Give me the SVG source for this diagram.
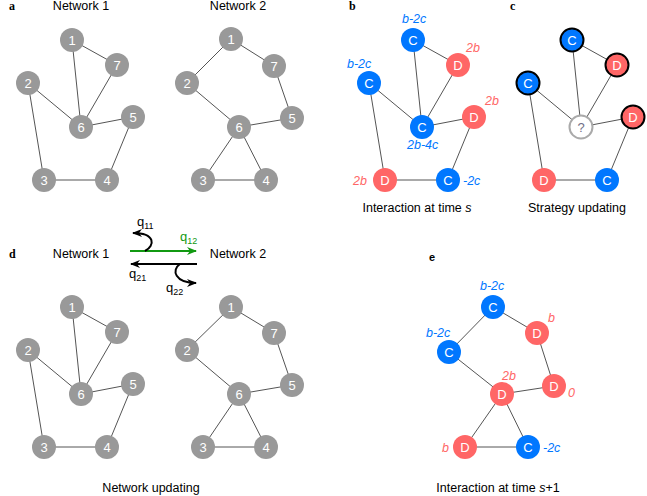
<svg xmlns="http://www.w3.org/2000/svg" width="647" height="496" viewBox="0 0 647 496">
<defs>
<marker id="ahK" viewBox="0 0 10 8" refX="9" refY="4" markerWidth="5" markerHeight="4" orient="auto" markerUnits="strokeWidth">
<path d="M0,0 L10,4 L0,8 L3,4 z" fill="#000"/>
</marker>
<marker id="ahG" viewBox="0 0 10 8" refX="9" refY="4" markerWidth="5" markerHeight="4" orient="auto" markerUnits="strokeWidth">
<path d="M0,0 L10,4 L0,8 L3,4 z" fill="#119911"/>
</marker>
</defs>
<style>
text{font-family:"Liberation Sans",Arial,sans-serif}
.ed line{stroke:#555;stroke-width:1}
.g{fill:#999}
.bl{fill:#0077ff}
.rd{fill:#ff6666}
.ol{stroke:#000;stroke-width:2}
.nl{fill:#fff;font-size:13px;text-anchor:middle}
.t{font-size:12.5px;fill:#000;text-anchor:middle}
.pl{font-family:"Liberation Serif",serif;font-weight:bold;font-size:12px}
.lb{font-style:italic;font-size:12.5px;fill:#0077ff}
.lr{font-style:italic;font-size:12.5px;fill:#ff6666}
.q{font-size:13px}
.q tspan{font-size:9px}
</style>
<rect width="647" height="496" fill="#fff"/>

<!-- labels -->
<text class="pl" x="9" y="10">a</text>
<text class="t" x="81" y="10">Network 1</text>
<text class="t" x="238" y="10">Network 2</text>
<text class="pl" x="349" y="10">b</text>
<text class="pl" x="510" y="10">c</text>
<text class="pl" x="9" y="258">d</text>
<text class="t" x="81" y="258">Network 1</text>
<text class="t" x="238" y="258">Network 2</text>
<text x="429" y="261" style="font-weight:bold;font-size:11px">e</text>
<text class="t" x="417" y="212">Interaction at time <tspan font-style="italic">s</tspan></text>
<text class="t" x="577" y="212">Strategy updating</text>
<text class="t" x="151" y="492">Network updating</text>
<text class="t" x="498" y="492">Interaction at time <tspan font-style="italic">s</tspan>+1</text>

<!-- connectors -->
<g id="connectors" class="ed">
<!-- a network 1 -->
<line x1="72" y1="40" x2="117" y2="65"/><line x1="72" y1="40" x2="81" y2="127"/><line x1="117" y1="65" x2="81" y2="127"/><line x1="28" y1="83" x2="81" y2="127"/><line x1="28" y1="83" x2="44" y2="180"/><line x1="81" y1="127" x2="133" y2="117"/><line x1="133" y1="117" x2="107" y2="180"/><line x1="44" y1="180" x2="107" y2="180"/>
<!-- a network 2 -->
<line x1="231" y1="39" x2="187" y2="83"/><line x1="231" y1="39" x2="274" y2="66"/><line x1="274" y1="66" x2="292" y2="118"/><line x1="187" y1="83" x2="239" y2="127"/><line x1="239" y1="127" x2="292" y2="118"/><line x1="239" y1="127" x2="203" y2="180"/><line x1="239" y1="127" x2="266" y2="180"/><line x1="203" y1="180" x2="266" y2="180"/>
<!-- b -->
<line x1="413" y1="40" x2="458" y2="65"/><line x1="413" y1="40" x2="422" y2="127"/><line x1="458" y1="65" x2="422" y2="127"/><line x1="369" y1="83" x2="422" y2="127"/><line x1="369" y1="83" x2="385" y2="180"/><line x1="422" y1="127" x2="474" y2="117"/><line x1="474" y1="117" x2="448" y2="180"/><line x1="385" y1="180" x2="448" y2="180"/>
<!-- c -->
<line x1="572" y1="40" x2="617" y2="65"/><line x1="572" y1="40" x2="581" y2="127"/><line x1="617" y1="65" x2="581" y2="127"/><line x1="528" y1="83" x2="581" y2="127"/><line x1="528" y1="83" x2="544" y2="180"/><line x1="581" y1="127" x2="633" y2="117"/><line x1="633" y1="117" x2="607" y2="180"/><line x1="544" y1="180" x2="607" y2="180"/>
<!-- d network 1 -->
<line x1="72" y1="307" x2="117" y2="332"/><line x1="72" y1="307" x2="81" y2="394"/><line x1="117" y1="332" x2="81" y2="394"/><line x1="28" y1="350" x2="81" y2="394"/><line x1="28" y1="350" x2="44" y2="447"/><line x1="81" y1="394" x2="133" y2="384"/><line x1="133" y1="384" x2="107" y2="447"/><line x1="44" y1="447" x2="107" y2="447"/>
<!-- d network 2 -->
<line x1="231" y1="307" x2="187" y2="350"/><line x1="231" y1="307" x2="274" y2="333"/><line x1="274" y1="333" x2="292" y2="385"/><line x1="187" y1="350" x2="239" y2="394"/><line x1="239" y1="394" x2="292" y2="385"/><line x1="239" y1="394" x2="203" y2="447"/><line x1="239" y1="394" x2="266" y2="447"/><line x1="203" y1="447" x2="266" y2="447"/>
<!-- e -->
<line x1="493" y1="307" x2="449" y2="352"/><line x1="493" y1="307" x2="537" y2="333"/><line x1="537" y1="333" x2="554" y2="386"/><line x1="449" y1="352" x2="502" y2="394"/><line x1="502" y1="394" x2="554" y2="386"/><line x1="502" y1="394" x2="465" y2="447"/><line x1="502" y1="394" x2="528" y2="447"/><line x1="465" y1="447" x2="528" y2="447"/>
<!-- transition arrows -->
<line x1="130" y1="251" x2="196" y2="251" style="stroke:#119911;stroke-width:2" marker-end="url(#ahG)"/>
<line x1="197" y1="264" x2="131" y2="264" style="stroke:#000;stroke-width:2" marker-end="url(#ahK)"/>
<path d="M145,251 C155,246 156,233 133,233" fill="none" stroke="#000" stroke-width="2" marker-end="url(#ahK)"/>
<path d="M180,264 C171,270 175,283 196,283" fill="none" stroke="#000" stroke-width="2" marker-end="url(#ahK)"/>
</g>
<text class="q" x="137" y="226">q<tspan dy="3">11</tspan></text>
<text class="q" x="180" y="241" fill="#119911">q<tspan dy="3">12</tspan></text>
<text class="q" x="129" y="278">q<tspan dy="3">21</tspan></text>
<text class="q" x="166" y="292">q<tspan dy="3">22</tspan></text>

<!-- panel a network 1 -->
<g id="a1n1"><circle class="g" cx="72" cy="40" r="12"/><text class="nl" x="72" y="45">1</text></g>
<g id="a1n7"><circle class="g" cx="117" cy="65" r="12"/><text class="nl" x="117" y="70">7</text></g>
<g id="a1n2"><circle class="g" cx="28" cy="83" r="12"/><text class="nl" x="28" y="88">2</text></g>
<g id="a1n6"><circle class="g" cx="81" cy="127" r="12"/><text class="nl" x="81" y="132">6</text></g>
<g id="a1n5"><circle class="g" cx="133" cy="117" r="12"/><text class="nl" x="133" y="122">5</text></g>
<g id="a1n3"><circle class="g" cx="44" cy="180" r="12"/><text class="nl" x="44" y="185">3</text></g>
<g id="a1n4"><circle class="g" cx="107" cy="180" r="12"/><text class="nl" x="107" y="185">4</text></g>
<!-- panel a network 2 -->
<g id="a2n1"><circle class="g" cx="231" cy="39" r="12"/><text class="nl" x="231" y="44">1</text></g>
<g id="a2n7"><circle class="g" cx="274" cy="66" r="12"/><text class="nl" x="274" y="71">7</text></g>
<g id="a2n2"><circle class="g" cx="187" cy="83" r="12"/><text class="nl" x="187" y="88">2</text></g>
<g id="a2n6"><circle class="g" cx="239" cy="127" r="12"/><text class="nl" x="239" y="132">6</text></g>
<g id="a2n5"><circle class="g" cx="292" cy="118" r="12"/><text class="nl" x="292" y="123">5</text></g>
<g id="a2n3"><circle class="g" cx="203" cy="180" r="12"/><text class="nl" x="203" y="185">3</text></g>
<g id="a2n4"><circle class="g" cx="266" cy="180" r="12"/><text class="nl" x="266" y="185">4</text></g>

<!-- panel b -->
<g id="b1"><circle class="bl" cx="413" cy="40" r="12"/><text class="nl" x="413" y="45">C</text><text class="lb" x="402" y="23">b-2c</text></g>
<g id="b7"><circle class="rd" cx="458" cy="65" r="12"/><text class="nl" x="458" y="70">D</text><text class="lr" x="466" y="52">2b</text></g>
<g id="b2"><circle class="bl" cx="369" cy="83" r="12"/><text class="nl" x="369" y="88">C</text><text class="lb" x="347" y="68">b-2c</text></g>
<g id="b6"><circle class="bl" cx="422" cy="127" r="12"/><text class="nl" x="422" y="132">C</text><text class="lb" x="407" y="149">2b-4c</text></g>
<g id="b5"><circle class="rd" cx="474" cy="117" r="12"/><text class="nl" x="474" y="122">D</text><text class="lr" x="485" y="105">2b</text></g>
<g id="b3"><circle class="rd" cx="385" cy="180" r="12"/><text class="nl" x="385" y="185">D</text><text class="lr" x="353" y="185">2b</text></g>
<g id="b4"><circle class="bl" cx="448" cy="180" r="12"/><text class="nl" x="448" y="185">C</text><text class="lb" x="463" y="185">-2c</text></g>

<!-- panel c -->
<g id="c1"><circle class="bl ol" cx="572" cy="40" r="11.5"/><text class="nl" x="572" y="45">C</text></g>
<g id="c7"><circle class="rd ol" cx="617" cy="65" r="11.5"/><text class="nl" x="617" y="70">D</text></g>
<g id="c2"><circle class="bl ol" cx="528" cy="83" r="11.5"/><text class="nl" x="528" y="88">C</text></g>
<g id="c6"><circle cx="581" cy="127" r="11.5" fill="#fff" stroke="#aaa" stroke-width="2"/><text class="nl" x="581" y="132" style="fill:#707088">?</text></g>
<g id="c5"><circle class="rd ol" cx="633" cy="117" r="11.5"/><text class="nl" x="633" y="122">D</text></g>
<g id="c3"><circle class="rd" cx="544" cy="180" r="12"/><text class="nl" x="544" y="185">D</text></g>
<g id="c4"><circle class="bl" cx="607" cy="180" r="12"/><text class="nl" x="607" y="185">C</text></g>

<!-- panel d network 1 -->
<g id="d1n1"><circle class="g" cx="72" cy="307" r="12"/><text class="nl" x="72" y="312">1</text></g>
<g id="d1n7"><circle class="g" cx="117" cy="332" r="12"/><text class="nl" x="117" y="337">7</text></g>
<g id="d1n2"><circle class="g" cx="28" cy="350" r="12"/><text class="nl" x="28" y="355">2</text></g>
<g id="d1n6"><circle class="g" cx="81" cy="394" r="12"/><text class="nl" x="81" y="399">6</text></g>
<g id="d1n5"><circle class="g" cx="133" cy="384" r="12"/><text class="nl" x="133" y="389">5</text></g>
<g id="d1n3"><circle class="g" cx="44" cy="447" r="12"/><text class="nl" x="44" y="452">3</text></g>
<g id="d1n4"><circle class="g" cx="107" cy="447" r="12"/><text class="nl" x="107" y="452">4</text></g>
<!-- panel d network 2 -->
<g id="d2n1"><circle class="g" cx="231" cy="307" r="12"/><text class="nl" x="231" y="312">1</text></g>
<g id="d2n7"><circle class="g" cx="274" cy="333" r="12"/><text class="nl" x="274" y="338">7</text></g>
<g id="d2n2"><circle class="g" cx="187" cy="350" r="12"/><text class="nl" x="187" y="355">2</text></g>
<g id="d2n6"><circle class="g" cx="239" cy="394" r="12"/><text class="nl" x="239" y="399">6</text></g>
<g id="d2n5"><circle class="g" cx="292" cy="385" r="12"/><text class="nl" x="292" y="390">5</text></g>
<g id="d2n3"><circle class="g" cx="203" cy="447" r="12"/><text class="nl" x="203" y="452">3</text></g>
<g id="d2n4"><circle class="g" cx="266" cy="447" r="12"/><text class="nl" x="266" y="452">4</text></g>

<!-- panel e -->
<g id="e1"><circle class="bl" cx="493" cy="307" r="12"/><text class="nl" x="493" y="312">C</text><text class="lb" x="480" y="290">b-2c</text></g>
<g id="e7"><circle class="rd" cx="537" cy="333" r="12"/><text class="nl" x="537" y="338">D</text><text class="lr" x="548" y="322">b</text></g>
<g id="e2"><circle class="bl" cx="449" cy="352" r="12"/><text class="nl" x="449" y="357">C</text><text class="lb" x="426" y="337">b-2c</text></g>
<g id="e6"><circle class="rd" cx="502" cy="394" r="12"/><text class="nl" x="502" y="399">D</text><text class="lr" x="502" y="380">2b</text></g>
<g id="e5"><circle class="rd" cx="554" cy="386" r="12"/><text class="nl" x="554" y="391">D</text><text class="lr" x="568" y="397">0</text></g>
<g id="e3"><circle class="rd" cx="465" cy="447" r="12"/><text class="nl" x="465" y="452">D</text><text class="lr" x="442" y="452">b</text></g>
<g id="e4"><circle class="bl" cx="528" cy="447" r="12"/><text class="nl" x="528" y="452">C</text><text class="lb" x="543" y="452">-2c</text></g>
</svg>
